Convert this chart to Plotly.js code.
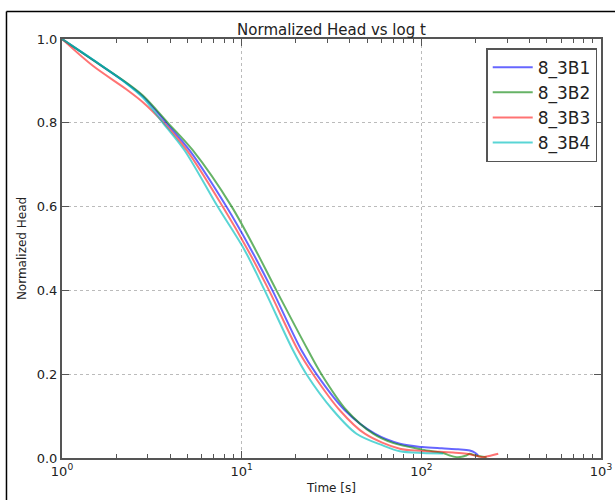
<!DOCTYPE html>
<html>
<head>
<meta charset="utf-8">
<script src="https://cdn.plot.ly/plotly-3.0.1.min.js"></script>
<style>html,body{margin:0;padding:0;background:#fff;}#chart{width:615px;height:500px;}</style>
</head>
<body>
<div id="chart"></div>
<script>
// Series names
const seriesNames = ["8_3B1", "8_3B2", "8_3B3", "8_3B4"];

// 8_3B1 (blue)
const tB1 = [1, 1.485, 2.279, 2.819, 3.806, 5.132, 8.22, 11.32, 14.83, 21.51, 26.08, 37.49, 55.08, 75.9, 101.3, 130, 160, 186, 200, 207];
const hB1 = [1.0, 0.950, 0.895, 0.863, 0.80, 0.734, 0.60, 0.496, 0.40, 0.257, 0.20, 0.114, 0.058, 0.034, 0.026, 0.023, 0.021, 0.018, 0.012, 0.006];

// 8_3B2 (green)
const tB2 = [1, 1.485, 2.279, 2.819, 3.886, 5.355, 8.80, 11.97, 15.61, 23.41, 27.80, 38.32, 53.9, 69.4, 101.3, 131.8, 144, 160, 178, 186, 200, 231];
const hB2 = [1.0, 0.950, 0.896, 0.865, 0.80, 0.734, 0.60, 0.496, 0.40, 0.257, 0.20, 0.114, 0.058, 0.036, 0.020, 0.012, 0.006, 0.002, 0.006, 0.010, 0.006, 0.002];

// 8_3B3 (red)
const tB3 = [1, 1.485, 2.279, 2.819, 3.677, 4.958, 7.84, 10.84, 14.20, 20.59, 24.96, 35.16, 48.44, 75.9, 101.3, 150, 179, 207, 221, 245, 268];
const hB3 = [1.0, 0.936, 0.880, 0.849, 0.80, 0.734, 0.60, 0.496, 0.40, 0.257, 0.20, 0.114, 0.058, 0.022, 0.017, 0.013, 0.010, 0.004, 0.002, 0.006, 0.010];

// 8_3B4 (cyan)
const tB4 = [1, 1.485, 2.279, 2.819, 3.644, 4.814, 7.35, 10.39, 13.43, 19.31, 22.93, 32.26, 43.55, 61, 75.9, 101.3, 132];
const hB4 = [1.0, 0.951, 0.894, 0.860, 0.80, 0.734, 0.60, 0.496, 0.40, 0.257, 0.20, 0.114, 0.058, 0.030, 0.016, 0.012, 0.011];

// Tick labels
const xTickVals = [1, 10, 100, 1000];
const xTickText = ["10<sup>0</sup>", "10<sup>1</sup>", "10<sup>2</sup>", "10<sup>3</sup>"];
const yTickVals = [0.0, 0.2, 0.4, 0.6, 0.8, 1.0];
const yTickText = ["0.0", "0.2", "0.4", "0.6", "0.8", "1.0"];

// minor tick positions on the log axis (2..9 in each decade)
const xMinorVals = [];
[1, 10, 100].forEach(d => { for (let k = 2; k <= 9; k++) xMinorVals.push(k * d); });

const xs = [tB1, tB2, tB3, tB4];
const ys = [hB1, hB2, hB3, hB4];
const colors = ["rgba(0,0,255,0.6)", "rgba(0,128,0,0.6)", "rgba(255,0,0,0.55)", "rgba(0,191,191,0.65)"];

const traces = seriesNames.map((n, i) => ({
  x: xs[i], y: ys[i], name: n, type: "scatter", mode: "lines",
  line: {color: colors[i], width: 2, shape: "spline", smoothing: 0.9}
}));

const axisCol = "#555";
const font = {family: "DejaVu Sans, sans-serif", color: "#222"};

const layout = {
  width: 615, height: 500,
  margin: {l: 62, r: 14, t: 39, b: 42},
  paper_bgcolor: "#fff", plot_bgcolor: "#fff",
  font: font,
  showlegend: true,
  title: {text: "Normalized Head vs log t", x: 0.5, xref: "paper", y: 1, yref: "paper", yanchor: "bottom",
          pad: {b: 4}, font: {family: font.family, size: 15, color: "#222"}},
  xaxis: {
    type: "log", range: [0, 3], tickvals: xTickVals, ticktext: xTickText,
    showline: true, linecolor: axisCol, linewidth: 2, mirror: "ticks",
    ticks: "inside", ticklen: 7, tickcolor: axisCol, tickwidth: 1,
    showgrid: true, gridcolor: "#bbb", griddash: "dot", gridwidth: 1,
    zeroline: false, tickfont: {size: 13, color: "#222"},
    minor: {tickvals: xMinorVals, ticks: "inside", ticklen: 4, tickcolor: axisCol, tickwidth: 1, showgrid: false},
    title: {text: "Time [s]", font: {size: 12, color: "#222"}, standoff: 6}
  },
  yaxis: {
    range: [0, 1], tickvals: yTickVals, ticktext: yTickText,
    showline: true, linecolor: axisCol, linewidth: 2, mirror: "ticks",
    ticks: "inside", ticklen: 7, tickcolor: axisCol, tickwidth: 1,
    showgrid: true, gridcolor: "#bbb", griddash: "dot", gridwidth: 1,
    zeroline: false, tickfont: {size: 13, color: "#222"},
    title: {text: "Normalized Head", font: {size: 12, color: "#222"}, standoff: 8}
  },
  legend: {
    x: 0.993, xanchor: "right", y: 0.978, yanchor: "top",
    bgcolor: "#fff", bordercolor: axisCol, borderwidth: 1.5,
    font: {size: 17, color: "#222"}, tracegroupgap: 0, itemwidth: 40
  },
  shapes: [
    {type: "line", xref: "paper", yref: "paper", x0: -0.103, x1: 1.03, y0: 1.0658, y1: 1.0658, line: {color: "#000", width: 1.5}},
    {type: "line", xref: "paper", yref: "paper", x0: -0.103, x1: -0.103, y0: 1.0658, y1: -0.11, line: {color: "#000", width: 1.5}}
  ]
};

Plotly.newPlot("chart", traces, layout, {displayModeBar: false, staticPlot: true});
</script>
</body>
</html>
